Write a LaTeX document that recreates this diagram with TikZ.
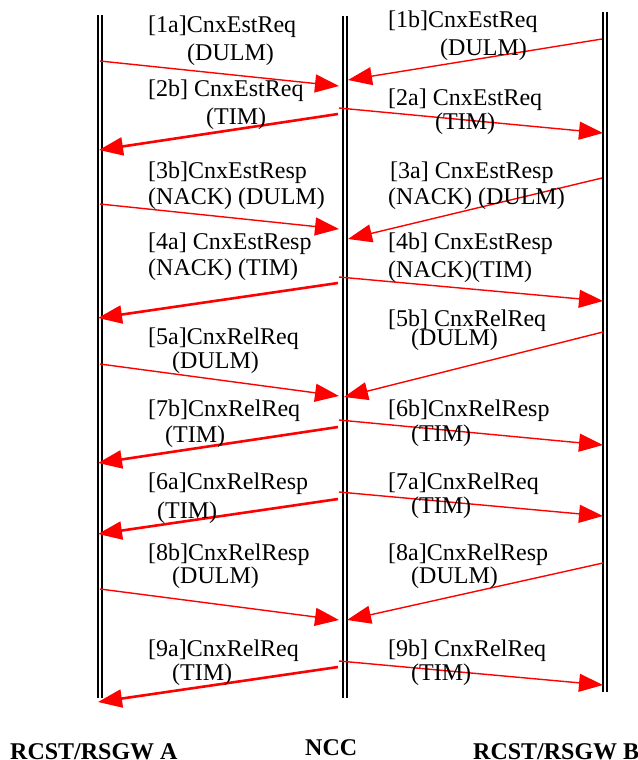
\documentclass[tikz,border=0pt]{standalone}
\usepackage{fontspec}
\setmainfont{Liberation Serif}
\usetikzlibrary{arrows.meta}
\definecolor{msgred}{RGB}{255,0,0}
\tikzset{
  lifeline/.style={draw=black, line width=1.8pt},
  msg/.style={draw=msgred, line width=1.4pt, -{Triangle[length=24pt,width=18pt]}},
  msgthick/.style={msg, line width=2.6pt},
  lbl/.style={anchor=west, inner sep=0pt, font=\fontsize{24}{28}\selectfont},
  party/.style={anchor=west, inner sep=0pt, font=\fontsize{24}{28}\selectfont\bfseries},
}
\begin{document}
\begin{tikzpicture}[x=1pt, y=-1pt]
\useasboundingbox (0,0) rectangle (637,760);

% lifelines (double rules)
\draw[lifeline] (98,15) -- (98,698);
\draw[lifeline] (102,15) -- (102,698);
\draw[lifeline] (343,16) -- (343,698);
\draw[lifeline] (347,16) -- (347,698);
\draw[lifeline] (603,12) -- (603,692);
\draw[lifeline] (607,12) -- (607,692);

% endpoints on the lifelines
\coordinate (a1) at (100,61);   \coordinate (n1) at (339,86);
\coordinate (b1) at (602,39);   \coordinate (n1r) at (348,80);
\coordinate (n2) at (338,114);  \coordinate (a2) at (99,150);
\coordinate (n2r) at (339,108); \coordinate (b2) at (603,133);
\coordinate (a3) at (100,204);  \coordinate (n3) at (339,229);
\coordinate (b3) at (602,178);  \coordinate (n3r) at (348,239);
\coordinate (n4) at (338,283);  \coordinate (a4) at (98,318);
\coordinate (n4r) at (339,277); \coordinate (b4) at (603,301);
\coordinate (a5) at (100,364);  \coordinate (n5) at (339,396);
\coordinate (b5) at (603,332);  \coordinate (n5r) at (344,397);
\coordinate (n6) at (338,427);  \coordinate (a6) at (98,463);
\coordinate (n6r) at (339,420); \coordinate (b6) at (603,445);
\coordinate (n7) at (338,499);  \coordinate (a7) at (98,534);
\coordinate (n7r) at (339,492); \coordinate (b7) at (603,516);
\coordinate (a8) at (100,589);  \coordinate (n8) at (339,620);
\coordinate (b8) at (603,563);  \coordinate (n8r) at (347,620);
\coordinate (n9) at (338,667);  \coordinate (a9) at (98,702);
\coordinate (n9r) at (339,661); \coordinate (b9) at (603,685);

% messages
\draw[msg] (a1) -- (n1);
\draw[msg] (b1) -- (n1r);
\draw[msgthick] (n2) -- (a2);
\draw[msg] (n2r) -- (b2);
\draw[msg] (a3) -- (n3);
\draw[msg] (b3) -- (n3r);
\draw[msgthick] (n4) -- (a4);
\draw[msg] (n4r) -- (b4);
\draw[msg] (a5) -- (n5);
\draw[msg] (b5) -- (n5r);
\draw[msgthick] (n6) -- (a6);
\draw[msg] (n6r) -- (b6);
\draw[msgthick] (n7) -- (a7);
\draw[msg] (n7r) -- (b7);
\draw[msg] (a8) -- (n8);
\draw[msg] (b8) -- (n8r);
\draw[msgthick] (n9) -- (a9);
\draw[msg] (n9r) -- (b9);

% message labels
\node[lbl] (l1a) at (148,27) {[1a]CnxEstReq};
\node[lbl] (l1a2) at (187,55) {(DULM)};
\node[lbl] (l1b) at (388,22) {[1b]CnxEstReq};
\node[lbl] (l1b2) at (440,50) {(DULM)};
\node[lbl] (l2b) at (148,91) {[2b] CnxEstReq};
\node[lbl] (l2b2) at (206,119) {(TIM)};
\node[lbl] (l2a) at (388,100) {[2a] CnxEstReq};
\node[lbl] (l2a2) at (435,124) {(TIM)};
\node[lbl] (l3b) at (148,173) {[3b]CnxEstResp};
\node[lbl] (l3b2) at (148,199) {(NACK) (DULM)};
\node[lbl] (l3a) at (390,173) {[3a] CnxEstResp};
\node[lbl] (l3a2) at (388,199) {(NACK) (DULM)};
\node[lbl] (l4a) at (148,244) {[4a] CnxEstResp};
\node[lbl] (l4a2) at (148,270) {(NACK) (TIM)};
\node[lbl] (l4b) at (388,244) {[4b] CnxEstResp};
\node[lbl] (l4b2) at (388,272) {(NACK)(TIM)};
\node[lbl] (l5a) at (148,339) {[5a]CnxRelReq};
\node[lbl] (l5a2) at (172,363) {(DULM)};
\node[lbl] (l5b) at (388,321) {[5b] CnxRelReq};
\node[lbl] (l5b2) at (411,340) {(DULM)};
\node[lbl] (l7b) at (148,411) {[7b]CnxRelReq};
\node[lbl] (l7b2) at (165,437) {(TIM)};
\node[lbl] (l6b) at (388,411) {[6b]CnxRelResp};
\node[lbl] (l6b2) at (411,436) {(TIM)};
\node[lbl] (l6a) at (148,484) {[6a]CnxRelResp};
\node[lbl] (l6a2) at (157,513) {(TIM)};
\node[lbl] (l7a) at (388,484) {[7a]CnxRelReq};
\node[lbl] (l7a2) at (411,508) {(TIM)};
\node[lbl] (l8b) at (148,555) {[8b]CnxRelResp};
\node[lbl] (l8b2) at (172,578) {(DULM)};
\node[lbl] (l8a) at (388,555) {[8a]CnxRelResp};
\node[lbl] (l8a2) at (411,578) {(DULM)};
\node[lbl] (l9a) at (148,651) {[9a]CnxRelReq};
\node[lbl] (l9a2) at (172,675) {(TIM)};
\node[lbl] (l9b) at (388,651) {[9b] CnxRelReq};
\node[lbl] (l9b2) at (411,675) {(TIM)};

% parties
\node[party] (pa) at (10,752) {RCST/RSGW A};
\node[party] (pn) at (305,748) {NCC};
\node[party] (pb) at (473,752) {RCST/RSGW B};
\end{tikzpicture}
\end{document}
